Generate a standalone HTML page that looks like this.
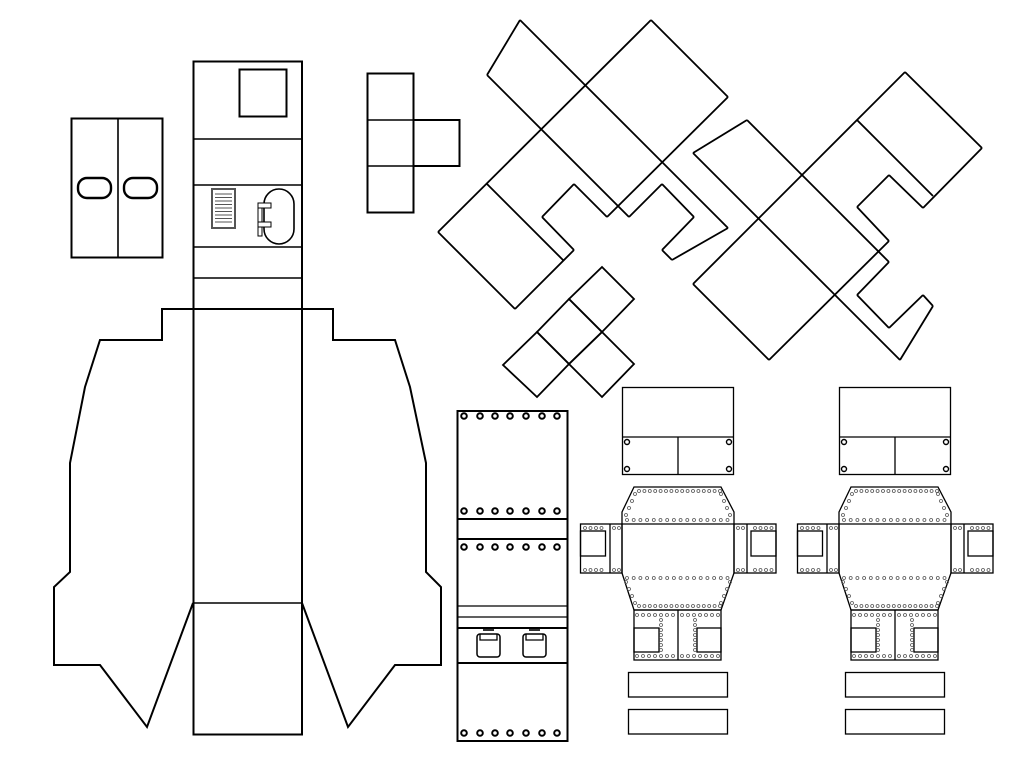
<!DOCTYPE html>
<html><head><meta charset="utf-8"><style>html,body{margin:0;padding:0;background:#fff}svg{display:block}</style></head>
<body>
<svg id="s" width="1024" height="768" viewBox="0 0 1024 768" xmlns="http://www.w3.org/2000/svg" fill="none" stroke="#000" stroke-width="1.6">
<!-- doors -->
<rect x="71.5" y="118.5" width="91" height="139" stroke-width="2"/>
<line x1="118" y1="118" x2="118" y2="257"/>
<rect x="78" y="178" width="33" height="20" rx="9" stroke-width="2.4"/>
<rect x="124" y="178" width="33" height="20" rx="9" stroke-width="2.4"/>
<!-- central column -->
<rect x="193.5" y="61.5" width="108.5" height="673" stroke-width="2"/>
<rect x="239.5" y="69.5" width="47" height="47" stroke-width="2"/>
<line x1="193" y1="139" x2="302" y2="139"/>
<line x1="193" y1="185" x2="302" y2="185"/>
<line x1="193" y1="247" x2="302" y2="247"/>
<line x1="193" y1="278" x2="302" y2="278"/>
<line x1="193" y1="603" x2="302" y2="603"/>
<rect x="212" y="189" width="23" height="39" stroke="#555" stroke-width="2"/>
<g stroke="#555" stroke-width="1"><line x1="215" y1="194" x2="232" y2="194"/><line x1="215" y1="197.5" x2="232" y2="197.5"/><line x1="215" y1="201" x2="232" y2="201"/><line x1="215" y1="204.5" x2="232" y2="204.5"/><line x1="215" y1="208" x2="232" y2="208"/><line x1="215" y1="211.5" x2="232" y2="211.5"/><line x1="215" y1="215" x2="232" y2="215"/><line x1="215" y1="218.5" x2="232" y2="218.5"/><line x1="215" y1="222" x2="232" y2="222"/></g>
<rect x="264" y="189" width="30" height="55" rx="15"/>
<rect x="258" y="203" width="4" height="33" stroke-width="1" fill="#fff"/>
<rect x="258" y="203" width="13" height="5" stroke-width="1" fill="#fff"/>
<rect x="258" y="222" width="13" height="5" stroke-width="1" fill="#fff"/>
<!-- wings -->
<polyline stroke-width="2" points="193,603 147,727 100,665 54,665 54,587 70,572 70,463 85,387 100,340 162,340 162,309 333,309 333,340 395,340 410,387 426,463 426,572 441,587 441,665 395,665 348,727 302,603"/>
<!-- cross -->
<rect x="367.5" y="73.5" width="46" height="139" stroke-width="2"/>
<rect x="413.5" y="120" width="46" height="46" stroke-width="2"/>
<line x1="367" y1="120" x2="413" y2="120"/><line x1="367" y1="166" x2="413" y2="166"/>
<!-- figure 1 -->
<g stroke-width="1.8">
<line x1="520" y1="20" x2="487" y2="75"/>
<line x1="520" y1="20" x2="728" y2="228"/>
<line x1="651" y1="20" x2="728" y2="97"/>
<line x1="487" y1="75" x2="629" y2="217"/>
<line x1="728" y1="97" x2="607" y2="217"/>
<line x1="574" y1="184" x2="607" y2="217"/>
<line x1="651" y1="20" x2="438" y2="232"/>
<line x1="487" y1="184" x2="564" y2="261"/>
<line x1="438" y1="232" x2="515" y2="309"/>
<line x1="574" y1="250" x2="515" y2="309"/>
<line x1="542" y1="217" x2="574" y2="250"/>
<line x1="574" y1="184" x2="542" y2="217"/>
<line x1="662" y1="184" x2="694" y2="217"/>
<line x1="629" y1="217" x2="662" y2="184"/>
<line x1="694" y1="217" x2="662" y2="250"/>
<line x1="662" y1="250" x2="672" y2="260"/>
<line x1="672" y1="260" x2="728" y2="228"/>
<!-- figure 2 -->
<line x1="693" y1="153" x2="747" y2="120"/>
<line x1="693" y1="153" x2="900" y2="360"/>
<line x1="747" y1="120" x2="889" y2="262"/>
<line x1="857" y1="120" x2="933" y2="196"/>
<line x1="905" y1="72" x2="982" y2="148"/>
<line x1="857" y1="207" x2="889" y2="241"/>
<line x1="889" y1="175" x2="923" y2="208"/>
<line x1="857" y1="295" x2="889" y2="328"/>
<line x1="693" y1="284" x2="769" y2="360"/>
<line x1="923" y1="295" x2="933" y2="306"/>
<line x1="905" y1="72" x2="693" y2="284"/>
<line x1="982" y1="148" x2="923" y2="208"/>
<line x1="889" y1="175" x2="857" y2="207"/>
<line x1="889" y1="241" x2="769" y2="360"/>
<line x1="889" y1="262" x2="857" y2="295"/>
<line x1="923" y1="295" x2="889" y2="328"/>
<line x1="933" y1="306" x2="900" y2="360"/>
<!-- small diamond -->
<polygon points="602,267 634,299 602,332 569,299"/>
<polygon points="569,299 602,332 569,364 537,332"/>
<polygon points="537,332 569,364 537,397 503,365"/>
<polygon points="602,332 634,364 602,397 569,364"/>
</g>
<!-- middle panel -->
<g id="panel" stroke-width="2">
<rect x="457.5" y="411" width="110" height="330"/>
<line x1="457" y1="519" x2="568" y2="519"/>
<line x1="457" y1="539" x2="568" y2="539"/>
<line x1="457" y1="606" x2="568" y2="606" stroke-width="1.3"/>
<line x1="457" y1="617" x2="568" y2="617" stroke-width="1.3"/>
<line x1="457" y1="628" x2="568" y2="628"/>
<line x1="457" y1="663" x2="568" y2="663"/>
<rect x="477" y="634" width="23" height="23" rx="3" stroke-width="1.5"/>
<rect x="523" y="634" width="23" height="23" rx="3" stroke-width="1.5"/>
<path d="M480,634 v6 h17 v-6" stroke-width="1.3"/><path d="M526,634 v6 h17 v-6" stroke-width="1.3"/>
<rect x="483" y="629" width="11" height="2" fill="#333" stroke="none"/>
<rect x="529" y="629" width="11" height="2" fill="#333" stroke="none"/>
</g>
<g id="dots"></g>
<g id="robots"></g>
</svg>
<script>
var NS="http://www.w3.org/2000/svg";
function el(p,t,a){var e=document.createElementNS(NS,t);for(var k in a)e.setAttribute(k,a[k]);p.appendChild(e);return e;}
var d=document.getElementById('dots');
[416,511,547,733].forEach(function(y){[464,480,495,510,526,542,557].forEach(function(x){el(d,'circle',{cx:x,cy:y,r:2.8,'stroke-width':2});});});
var R=document.getElementById('robots');
function robot(ox){
 var g=el(R,'g',{transform:'translate('+ox+',0)','stroke-width':1.3});
 el(g,'rect',{x:622.5,y:387.5,width:111,height:87});
 el(g,'line',{x1:622,y1:437,x2:734,y2:437});
 el(g,'line',{x1:678,y1:437,x2:678,y2:474});
 [[627,442],[729,442],[627,469],[729,469]].forEach(function(p){el(g,'circle',{cx:p[0],cy:p[1],r:2.5,'stroke-width':1.4});});
 el(g,'polygon',{points:'634,487 721,487 734,512 734,573 721,610 634,610 622,573 622,512'});
 el(g,'line',{x1:622,y1:524,x2:734,y2:524});
 el(g,'rect',{x:580.5,y:524,width:41.5,height:49});
 el(g,'line',{x1:610,y1:524,x2:610,y2:573});
 el(g,'rect',{x:580.5,y:531,width:25,height:25});
 el(g,'rect',{x:734,y:524,width:42,height:49});
 el(g,'line',{x1:747,y1:524,x2:747,y2:573});
 el(g,'rect',{x:751,y:531,width:25,height:25});
 el(g,'rect',{x:634,y:610,width:87,height:50});
 el(g,'line',{x1:678,y1:610,x2:678,y2:660});
 el(g,'rect',{x:634,y:628,width:25,height:24});
 el(g,'rect',{x:697,y:628,width:24,height:24});
 el(g,'rect',{x:628.5,y:672.5,width:99,height:24.5});
 el(g,'rect',{x:628.5,y:709.5,width:99,height:24.5});
 var dd=el(g,'g',{stroke:'#555','stroke-width':0.8});
 function dot(x,y){el(dd,'circle',{cx:x,cy:y,r:1.5});}
 var i;
 for(i=0;i<16;i++){dot(639+i*5.4,491);dot(627+i*6.7,520);dot(627+i*6.7,578);}
 for(i=0;i<16;i++){dot(639+i*5.4,606);}
 for(i=0;i<4;i++){dot(626+i*3,515-i*7);dot(730-i*3,515-i*7);dot(626+i*3,582+i*7);dot(730-i*3,582+i*7);}
 for(i=0;i<4;i++){dot(585+i*5.5,528);dot(585+i*5.5,570);dot(755+i*5.5,528);dot(755+i*5.5,570);}
 dot(614,528);dot(619,528);dot(614,570);dot(619,570);dot(738,528);dot(743,528);dot(738,570);dot(743,570);
 for(i=0;i<7;i++){dot(637+i*6,615);dot(682+i*6,615);dot(637+i*6,656);dot(682+i*6,656);}
 for(i=0;i<7;i++){dot(661,620+i*5);dot(695,620+i*5);}
}
robot(0);robot(217);
</script>
</body></html>
